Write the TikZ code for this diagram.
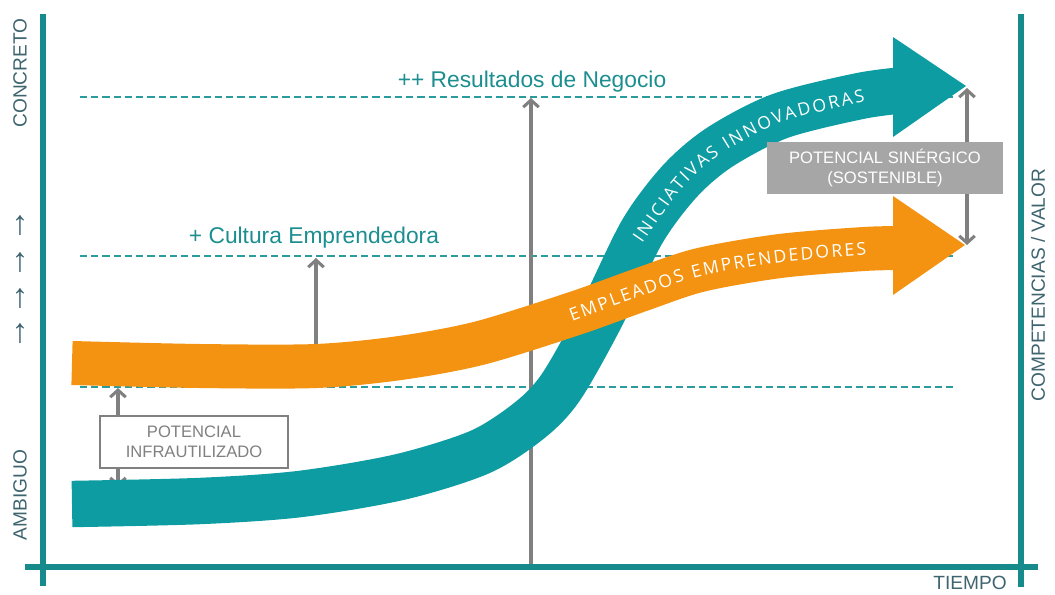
\documentclass[tikz,border=0pt]{standalone}
\usepackage{fontspec}
\setmainfont{Liberation Sans}
\newfontfamily\bandfont{Open Sans}
\usetikzlibrary{arrows.meta,decorations.text}
\definecolor{axisteal}{HTML}{178A8C}
\definecolor{dashteal}{HTML}{2A9C9E}
\definecolor{labelteal}{HTML}{1C8E90}
\definecolor{labelslate}{HTML}{3E6470}
\definecolor{bandteal}{HTML}{0C9CA2}
\definecolor{bandorange}{HTML}{F39311}
\definecolor{arrowgray}{HTML}{808080}
\definecolor{boxgray}{HTML}{A6A6A6}
\tikzset{
  axis/.style={axisteal, line width=3.6pt},
  guide/.style={dashteal, line width=1pt, dash pattern=on 5pt off 3pt},
  grayarrow/.style={arrowgray, line width=2.2pt, -{Straight Barb[length=5pt,width=11pt]}},
  graytwin/.style={arrowgray, line width=2.2pt, {Straight Barb[length=5pt,width=11pt]}-{Straight Barb[length=5pt,width=11pt]}},
  band/.style={line width=1.16cm},
  axislabel/.style={text=labelslate, font=\fontsize{13.6}{16}\selectfont},
  level/.style={text=labelteal, font=\fontsize{16.2}{19}\selectfont, anchor=base},
  potbox/.style={font=\fontsize{11.8}{14.2}\selectfont, align=center, minimum height=1.3cm, inner sep=0pt},
}
\begin{document}
\begin{tikzpicture}[x=0.025cm, y=-0.025cm]
  \useasboundingbox (0,0) rectangle (1055,594);
  % guide levels
  \draw[guide] (80,97) -- (957,97);
  \draw[guide] (80,256) -- (957,256);
  \draw[guide] (80,387) -- (957,387);
  \coordinate (cultura) at (316,258);
  \coordinate (naranjatop) at (316,346);
  \coordinate (infratop) at (118,388);
  \coordinate (infrabot) at (118,487);
  \coordinate (base) at (531,566);
  \coordinate (negocio) at (531,98);
  \draw[grayarrow] (base) -- (negocio);
  \draw[grayarrow] (naranjatop) -- (cultura);
  \draw[graytwin] (infrabot) -- (infratop);
  % teal band
  \draw[band, bandteal] plot[smooth] coordinates {(72,504) (200,501) (300,494) (400,477) (480,452) (530,420) (561,387) (600,318) (642,232) (680,181) (720,147) (780,116) (860,96) (905,90)};
  \fill[bandteal] (893,37) -- (966,86) -- (893,137) -- cycle;
  % orange band
  \draw[band, bandorange, line width=1.1cm] plot[smooth] coordinates {(72,363) (200,366) (316,366) (400,358) (480,343) (576,313) (640,290) (700,270) (780,256) (864,249) (905,248)};
  \fill[bandorange] (893,196) -- (965,245) -- (893,295) -- cycle;
  \path[decorate, decoration={text along path, text align=fit to path, text color=white, raise=-4.5pt,
    text={|\bandfont\fontsize{12.5}{15}\selectfont|INICIATIVAS INNOVADORAS}}]
    plot[smooth] coordinates {(637,240) (680,181) (720,147) (780,116) (864,95)};
  \path[decorate, decoration={text along path, text align=fit to path, text color=white, raise=-4.5pt,
    text={|\bandfont\fontsize{12.5}{15}\selectfont|EMPLEADOS EMPRENDEDORES}}]
    plot[smooth] coordinates {(570,316) (640,290) (700,270) (780,256) (866,249)};
  % potentials
  \node[potbox, draw=arrowgray, line width=1pt, fill=white, text=arrowgray, minimum width=4.7cm] (infra) at (194,442) {POTENCIAL\\INFRAUTILIZADO};
  \coordinate (sintop) at (967,88);
  \coordinate (sinbot) at (967,245);
  \draw[graytwin] (sinbot) -- (sintop);
  \node[potbox, fill=boxgray, text=white, minimum width=5.9cm] (sinergico) at (885,168) {POTENCIAL SINÉRGICO\\(SOSTENIBLE)};
  \node[level] (resultados) at (532,87) {++ Resultados de Negocio};
  \node[level] (emprende) at (314,243) {+ Cultura Emprendedora};
  % axes
  \draw[axis] (43,14) -- (43,586);
  \draw[axis] (1021,14) -- (1021,587);
  \draw[axis] (25,567) -- (1038,567);
  \node[axislabel, rotate=90] (concreto) at (20,73) {CONCRETO};
  \node[axislabel, rotate=90] (ambiguo) at (20,495) {AMBIGUO};
  \node[axislabel, rotate=90] (valor) at (1038,285) {COMPETENCIAS / VALOR};
  \node[axislabel] (tiempo) at (970,583) {TIEMPO};
  \foreach \y [count=\i] in {226,263,299,334}
    \node[axislabel, font=\fontsize{24}{26}\selectfont] (up\i) at (20,\y) {↑};
\end{tikzpicture}
\end{document}
